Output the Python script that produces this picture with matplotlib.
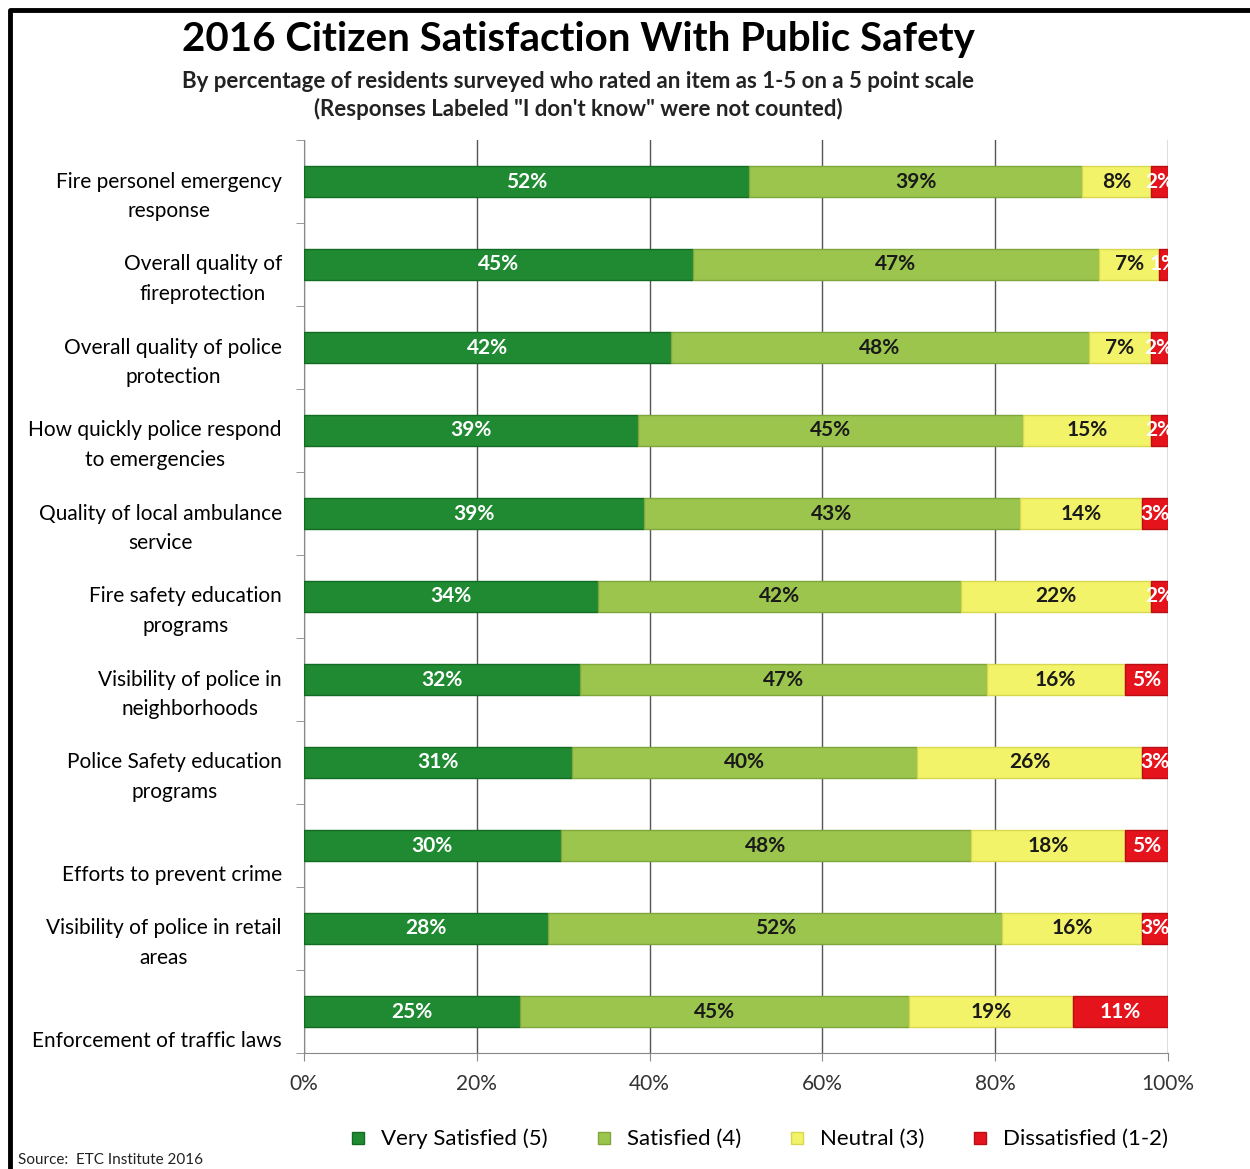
import matplotlib.pyplot as plt
import matplotlib.transforms as mtransforms
from matplotlib.lines import Line2D
import numpy as np

plt.rcParams['font.family'] = ['Lato', 'DejaVu Sans']

categories = [
    "Fire personel emergency\nresponse",
    "Overall quality of\nfireprotection",
    "Overall quality of police\nprotection",
    "How quickly police respond\nto emergencies",
    "Quality of local ambulance\nservice",
    "Fire safety education\nprograms",
    "Visibility of police in\nneighborhoods",
    "Police Safety education\nprograms",
    "\nEfforts to prevent crime",
    "Visibility of police in retail\nareas",
    "\nEnforcement of traffic laws",
]
very_satisfied = [52, 45, 42, 39, 39, 34, 32, 31, 30, 28, 25]
satisfied = [39, 47, 48, 45, 43, 42, 47, 40, 48, 52, 45]
neutral = [8, 7, 7, 15, 14, 22, 16, 26, 18, 16, 19]
dissatisfied = [2, 1, 2, 2, 3, 2, 5, 3, 5, 3, 11]

series_names = ["Very Satisfied (5)", "Satisfied (4)", "Neutral (3)", "Dissatisfied (1-2)"]
colors = ["#1f8a32", "#9cc54e", "#f3f36a", "#e5141c"]
edge_colors = ["#136b22", "#7fa63a", "#d8d850", "#b80e14"]
text_colors = ["white", "#1a1a1a", "#1a1a1a", "white"]

data = np.array([very_satisfied, satisfied, neutral, dissatisfied], dtype=float)
# 100% stacked, like Excel
shares = data / data.sum(axis=0)

fig = plt.figure(figsize=(12.5, 11.69), dpi=100)
ax = fig.add_axes([304 / 1250, 1 - 1053 / 1169, 864 / 1250, 913 / 1169])

y = np.arange(len(categories))
left = np.zeros(len(categories))
for i in range(4):
    ax.barh(y, shares[i], left=left, height=0.38, color=colors[i],
            edgecolor=edge_colors[i], linewidth=1.0, zorder=3)
    for j in range(len(categories)):
        ax.text(left[j] + shares[i][j] / 2, y[j], f"{int(data[i][j])}%",
                ha='center', va='center', fontsize=15, fontweight='bold',
                color=text_colors[i], zorder=4, clip_on=True)
    left += shares[i]

ax.set_xlim(0, 1)
ax.set_ylim(len(categories) - 0.5, -0.5)
ax.set_xticks(np.linspace(0, 1, 6))
ax.set_xticklabels(["0%", "20%", "40%", "60%", "80%", "100%"], fontsize=15, color="#333333")
ax.tick_params(axis='x', length=6, color="#888888", pad=9)
ax.grid(axis='x', color="#555555", linewidth=1.0, zorder=0)

ax.set_yticks(y)
ax.set_yticklabels(categories, fontsize=15, linespacing=1.6, multialignment='center')
ax.set_yticks(np.arange(len(categories) + 1) - 0.5, minor=True)
ax.tick_params(axis='y', which='major', length=0, pad=16)
ax.tick_params(axis='y', which='minor', length=6, color="#888888")
shift = mtransforms.ScaledTranslation(0, -8 / 100, fig.dpi_scale_trans)
for lab in ax.get_yticklabels():
    lab.set_transform(lab.get_transform() + shift)

for side in ['top', 'right']:
    ax.spines[side].set_visible(False)
ax.spines['left'].set_color("#888888")
ax.spines['bottom'].set_color("#888888")

fig.text(578 / 1250, 1 - 40 / 1169, "2016 Citizen Satisfaction With Public Safety",
         ha='center', va='center', fontsize=29, fontweight='bold')
fig.text(578 / 1250, 1 - 81 / 1169,
         "By percentage of residents surveyed who rated an item as 1-5 on a 5 point scale",
         ha='center', va='center', fontsize=16, fontweight='bold', color="#222222")
fig.text(578 / 1250, 1 - 109 / 1169, "(Responses Labeled \"I don't know\" were not counted)",
         ha='center', va='center', fontsize=16, fontweight='bold', color="#222222")

handles = [Line2D([], [], marker='s', linestyle='none', markersize=9,
                  markerfacecolor=c, markeredgecolor=e) for c, e in zip(colors, edge_colors)]
fig.legend(handles, series_names, loc='center', bbox_to_anchor=(752 / 1250, 1 - 1139 / 1169),
           ncol=4, frameon=False, fontsize=16, handletextpad=0.05, columnspacing=1.5)

fig.text(18 / 1250, 1 - 1160 / 1169, "Source:  ETC Institute 2016", ha='left', va='center',
         fontsize=11, color="#222222")

# frame around the graphic
fig.add_artist(Line2D([10 / 1250, 10 / 1250, 1.0], [0.0, 1 - 10 / 1169, 1 - 10 / 1169],
                      color='black', linewidth=3.5, transform=fig.transFigure))

fig.savefig("out.png", dpi=100)
